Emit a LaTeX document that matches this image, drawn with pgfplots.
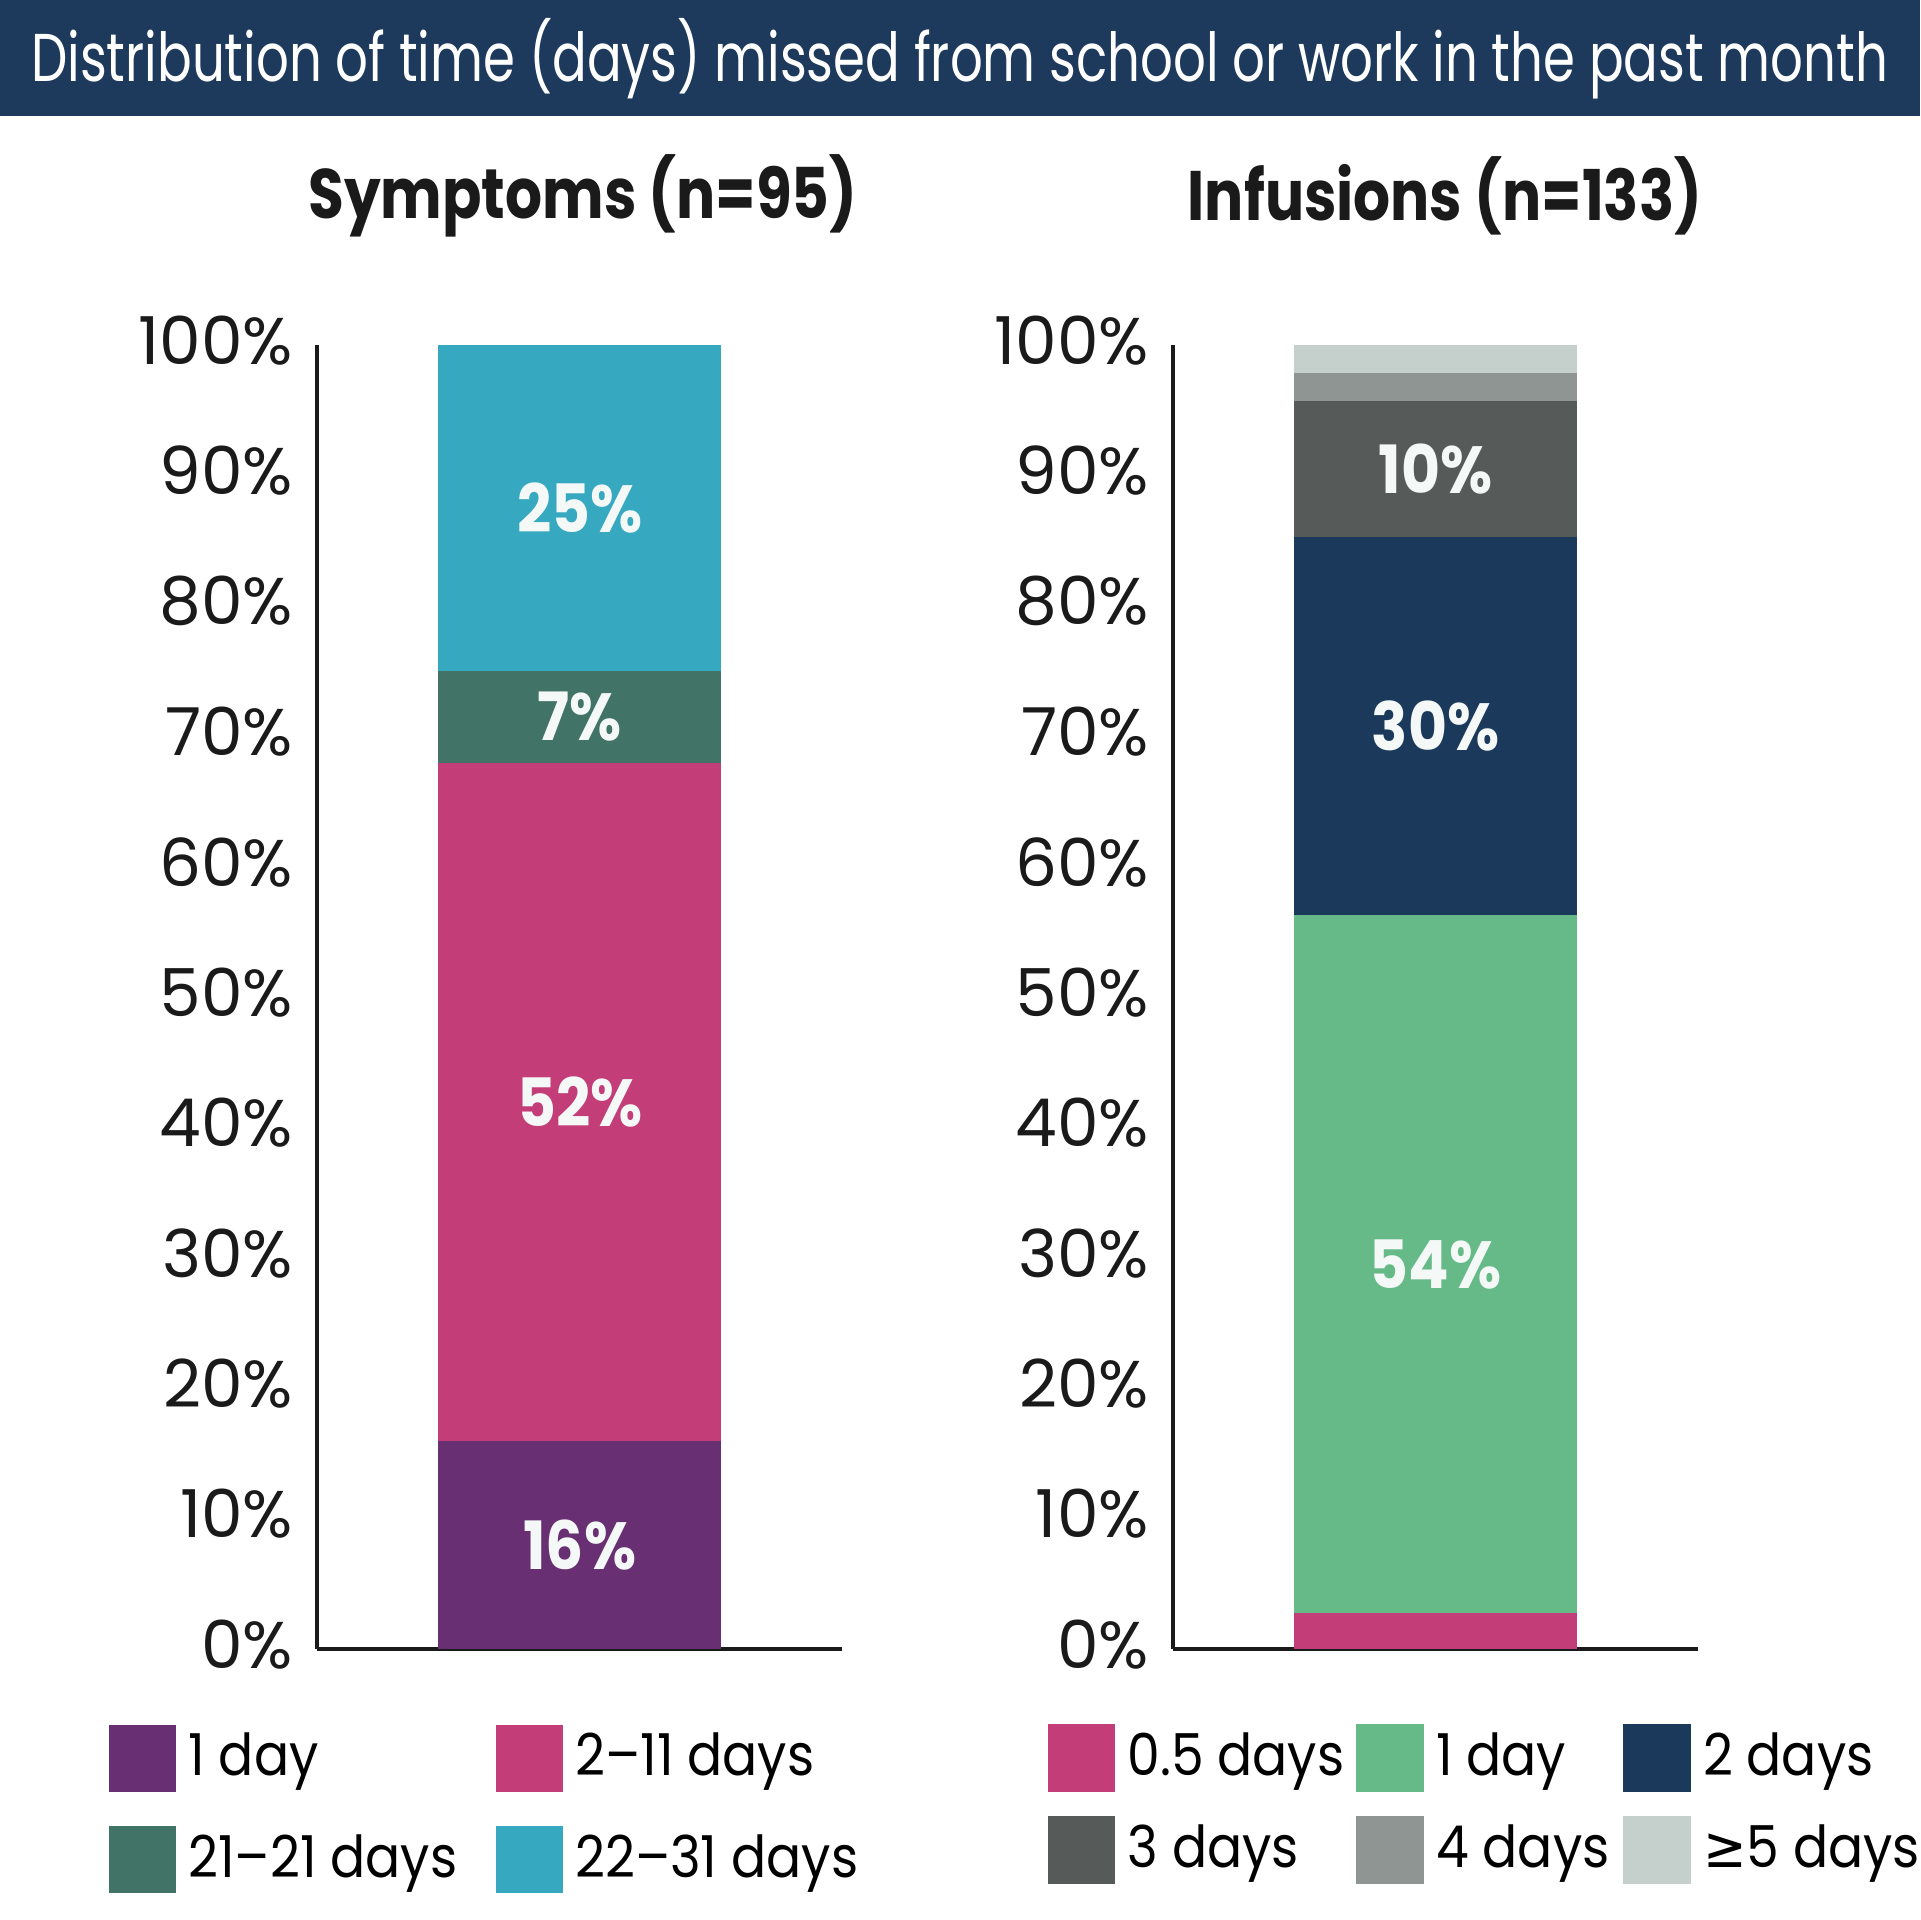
\documentclass[border=0pt]{standalone}
\usepackage{pgfplots}
\pgfplotsset{compat=1.18}
\usepackage{fontspec}
\setmainfont{Poppins}
\newfontfamily\titlefont{Poppins}[FakeStretch=0.76]
\newfontfamily\headfont{Poppins}[FakeStretch=0.83]
\newfontfamily\narrowfont{Poppins}[FakeStretch=0.9]
\newfontfamily\symfont{DejaVu Sans}[FakeStretch=0.9]

\definecolor{banner}{HTML}{1D3A5D}
\definecolor{cPurple}{HTML}{682F73}
\definecolor{cPink}{HTML}{C33E78}
\definecolor{cDkGreen}{HTML}{417366}
\definecolor{cTeal}{HTML}{36A9C1}
\definecolor{cGreen}{HTML}{66BA88}
\definecolor{cNavy}{HTML}{1B395B}
\definecolor{cGrayA}{HTML}{565A59}
\definecolor{cGrayB}{HTML}{8F9592}
\definecolor{cGrayC}{HTML}{C5CFCC}
\definecolor{lbl}{HTML}{F4F8F7}
\definecolor{ink}{HTML}{1A1A1A}

\pgfplotsset{
  stackbar/.style={
    width=107.25pt, height=266.25pt, scale only axis,
    anchor=south west,
    xmin=-1, xmax=1, ymin=0, ymax=100,
    axis x line=bottom, axis y line=left,
    axis line style={ink, line width=0.8pt, -},
    xtick=\empty,
    ytick={0,10,...,100},
    yticklabels={0\%,10\%,20\%,30\%,40\%,50\%,60\%,70\%,80\%,90\%,100\%},
    major tick length=0pt,
    yticklabel style={font=\fontsize{13.5}{14}\selectfont, text=ink, inner sep=0pt,
      xshift=-4.75pt, yshift=1pt},
    ybar stacked, bar width=57.75pt,
    clip=false,
    legend cell align=left,
    legend style={draw=none, fill=none, inner sep=0pt, anchor=north west,
      nodes={inner sep=0pt, outer sep=0pt},
      font=\narrowfont\fontsize{11.8}{12}\selectfont, text=black,
      /tikz/every odd column/.append style={column sep=2.5pt}},
  },
  labels/.style={
    width=107.25pt, height=266.25pt, scale only axis,
    anchor=south west,
    xmin=-1, xmax=1, ymin=0, ymax=100, hide axis,
    clip=false,
  },
  seglabel/.style={
    draw=none, mark=none, nodes near coords, point meta=explicit symbolic,
    every node near coord/.append style={anchor=center, text=lbl,
      font=\narrowfont\bfseries\fontsize{13.6}{14}\selectfont},
  },
}

\begin{document}
\begin{tikzpicture}
\fill[white] (0,0) rectangle (392pt,392pt);
\useasboundingbox (0,0) rectangle (392pt,392pt);
\fill[banner] (0,368.25pt) rectangle (392pt,392pt);
\node[text=white, font=\titlefont\fontsize{13.8}{16}\selectfont] at (195.9pt,380pt) {Distribution of time (days) missed from school or work in the past month};
\node[text=ink, font=\headfont\bfseries\fontsize{14.3}{16}\selectfont] at (119pt,352pt) {Symptoms (n=95)};
\node[text=ink, font=\headfont\bfseries\fontsize{14.3}{16}\selectfont] at (295pt,352pt) {Infusions (n=133)};

% Symptoms
\begin{axis}[stackbar, at={(64.75pt,55.25pt)},
  legend columns=2,
  legend image code/.code={\path[fill=none, draw=none] (0pt,-10.375pt) rectangle (13.75pt,10.375pt);
    \fill[#1] (0pt,-6.875pt) rectangle (13.75pt,6.875pt);},
  legend style={at={(-0.3986,-0.0437)}}]
\addplot[fill=cPurple, draw=none] coordinates {(0,16)};
\addplot[fill=cPink, draw=none] coordinates {(0,52)};
\addplot[fill=cDkGreen, draw=none] coordinates {(0,7)};
\addplot[fill=cTeal, draw=none] coordinates {(0,25)};
\addlegendentry{\makebox[62.75pt][l]{1 day}}
\addlegendentry{2–11 days}
\addlegendentry{\makebox[62.75pt][l]{21–21 days}}
\addlegendentry{22–31 days}
\end{axis}
\begin{axis}[labels, at={(64.75pt,55.25pt)}]
\addplot[seglabel] coordinates {(0,8)[16\%] (0,42)[52\%] (0,71.5)[7\%] (0,87.5)[25\%]};
\end{axis}

% Infusions
\begin{axis}[stackbar, at={(239.5pt,55.25pt)},
  legend columns=3,
  legend image code/.code={\path[fill=none, draw=none] (0pt,-9.375pt) rectangle (13.75pt,9.375pt);
    \fill[#1] (0pt,-6.875pt) rectangle (13.75pt,6.875pt);},
  legend style={at={(-0.2401,-0.0474)}}]
\addplot[fill=cPink, draw=none] coordinates {(0,2.8)};
\addplot[fill=cGreen, draw=none] coordinates {(0,53.5)};
\addplot[fill=cNavy, draw=none] coordinates {(0,29.0)};
\addplot[fill=cGrayA, draw=none] coordinates {(0,10.4)};
\addplot[fill=cGrayB, draw=none] coordinates {(0,2.2)};
\addplot[fill=cGrayC, draw=none] coordinates {(0,2.1)};
\addlegendentry{\makebox[46.75pt][l]{0.5 days}}
\addlegendentry{\makebox[38.25pt][l]{1 day}}
\addlegendentry{2 days}
\addlegendentry{\makebox[46.75pt][l]{3 days}}
\addlegendentry{\makebox[38.25pt][l]{4 days}}
\addlegendentry{{\symfont ≥}5 days}
\end{axis}
\begin{axis}[labels, at={(239.5pt,55.25pt)}]
\addplot[seglabel] coordinates {(0,29.55)[54\%] (0,70.8)[30\%] (0,90.5)[10\%]};
\end{axis}
\end{tikzpicture}
\end{document}
